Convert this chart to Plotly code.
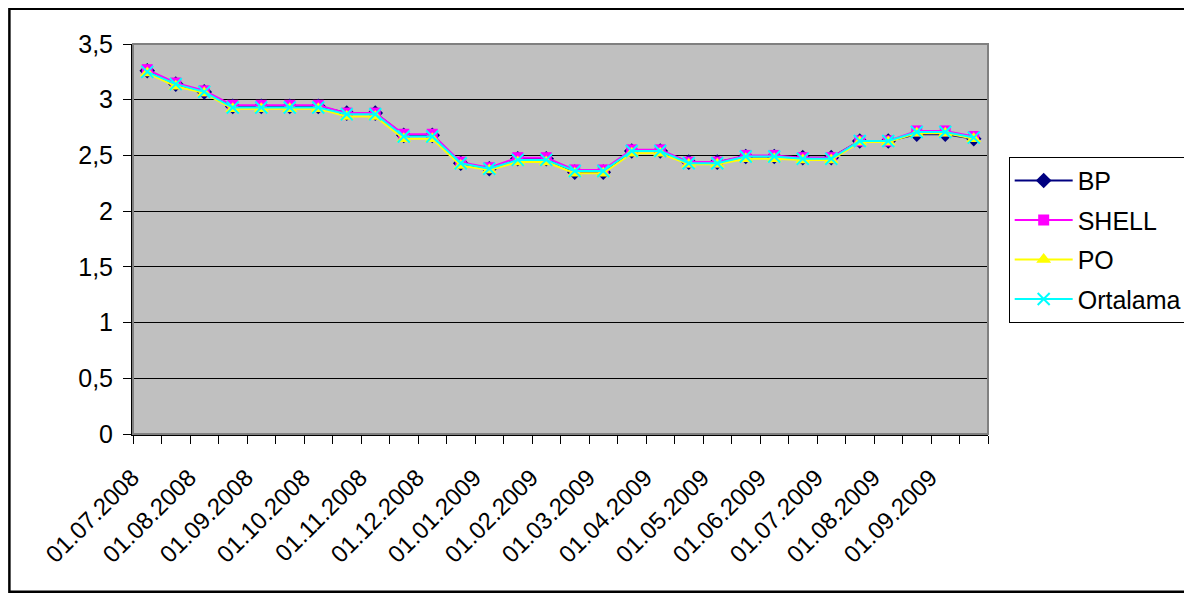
import plotly.graph_objects as go

dates = [
    "01.07.2008", "15.07.2008", "01.08.2008", "15.08.2008", "01.09.2008", "15.09.2008",
    "01.10.2008", "15.10.2008", "01.11.2008", "15.11.2008", "01.12.2008", "15.12.2008",
    "01.01.2009", "15.01.2009", "01.02.2009", "15.02.2009", "01.03.2009", "15.03.2009",
    "01.04.2009", "15.04.2009", "01.05.2009", "15.05.2009", "01.06.2009", "15.06.2009",
    "01.07.2009", "15.07.2009", "01.08.2009", "15.08.2009", "01.09.2009", "15.09.2009",
]
tick_labels = [d if d.startswith("01.") else "" for d in dates]

bp = [3.26, 3.14, 3.07, 2.94, 2.94, 2.94, 2.94, 2.88, 2.88, 2.68, 2.68, 2.43, 2.38, 2.47, 2.47,
      2.35, 2.35, 2.54, 2.54, 2.44, 2.44, 2.49, 2.49, 2.48, 2.48, 2.63, 2.63, 2.69, 2.69, 2.65]
shell = [3.27, 3.15, 3.08, 2.95, 2.95, 2.95, 2.95, 2.88, 2.88, 2.69, 2.69, 2.44, 2.39, 2.48, 2.48,
         2.37, 2.37, 2.55, 2.55, 2.44, 2.44, 2.50, 2.50, 2.48, 2.48, 2.63, 2.63, 2.72, 2.72, 2.67]
po = [3.24, 3.12, 3.06, 2.92, 2.92, 2.92, 2.92, 2.85, 2.85, 2.65, 2.65, 2.41, 2.37, 2.44, 2.44,
      2.34, 2.34, 2.52, 2.52, 2.42, 2.42, 2.47, 2.47, 2.46, 2.46, 2.62, 2.62, 2.70, 2.70, 2.65]
ortalama = [3.25, 3.14, 3.07, 2.93, 2.93, 2.93, 2.93, 2.87, 2.87, 2.67, 2.67, 2.43, 2.38, 2.46, 2.46,
            2.36, 2.36, 2.54, 2.54, 2.43, 2.43, 2.49, 2.49, 2.47, 2.47, 2.63, 2.63, 2.71, 2.71, 2.66]

series = [
    ("BP", bp, "#000080", "diamond", 12),
    ("SHELL", shell, "#FF00FF", "square", 11),
    ("PO", po, "#FFFF00", "triangle-up", 13),
    ("Ortalama", ortalama, "#00FFFF", "x-thin", 12),
]

FONT = "Liberation Sans, Arial, sans-serif"
fig = go.Figure()
for name, vals, color, sym, size in series:
    marker = dict(symbol=sym, size=size, color=color)
    if sym == "x-thin":
        marker["line"] = dict(color=color, width=2)
    fig.add_trace(go.Scatter(
        x=dates, y=vals, name=name, mode="lines+markers",
        line=dict(color=color, width=2), marker=marker,
        legendgroup=name,
    ))

# page has an 8px body margin: figure coordinates = page coordinates - 8
OFF = 8
W, H = 1192 - OFF, 593 - OFF
L, R, T, B = 132.7 - OFF, 988.3 - OFF, 44.3 - OFF, 434.3 - OFF
pw, ph = R - L, B - T

# outer frame
fig.add_shape(type="rect", xref="paper", yref="paper",
              x0=(1.0 - L) / pw, x1=(W + 6 - L) / pw,
              y0=(B - (592 - OFF)) / ph, y1=(B - 1.0) / ph,
              line=dict(color="black", width=2.5), layer="below")
# plot area border (gray)
fig.add_shape(type="rect", xref="paper", yref="paper", x0=0, x1=1, y0=0, y1=1,
              line=dict(color="#808080", width=2), layer="above")

fig.update_layout(
    width=W, height=H,
    margin=dict(l=L, r=W - R, t=T, b=H - B, pad=0, autoexpand=False),
    paper_bgcolor="white", plot_bgcolor="#C0C0C0",
    separators=", ",
    font=dict(family=FONT, size=25, color="black"),
    showlegend=True,
    legend=dict(
        x=(1009 - OFF - L) / pw, xanchor="left", y=(B - (157 - OFF)) / ph, yanchor="top",
        bgcolor="white", bordercolor="black", borderwidth=1,
        font=dict(family=FONT, size=25, color="black"),
        traceorder="grouped", tracegroupgap=4, itemwidth=58,
    ),
    xaxis=dict(
        type="category", tickmode="array", tickvals=dates, ticktext=tick_labels,
        tickson="boundaries", ticks="outside", ticklen=8, tickcolor="black", tickwidth=1,
        tickangle=-45, showgrid=False, showline=True, linecolor="black", linewidth=2,
        range=[-0.5, len(dates) - 0.5], ticklabelstandoff=18, ticklabelshift=-15,
        automargin=False,
        tickfont=dict(family=FONT, size=24, color="black"),
    ),
    yaxis=dict(
        range=[0, 3.5], dtick=0.5, tick0=0, ticks="outside", ticklen=8,
        tickcolor="black", showgrid=True, gridcolor="black", gridwidth=1,
        showline=True, linecolor="black", linewidth=2, zeroline=False,
        ticklabelstandoff=5, automargin=False,
        tickfont=dict(family=FONT, size=25, color="black"),
    ),
)

fig.write_html("out.html")
